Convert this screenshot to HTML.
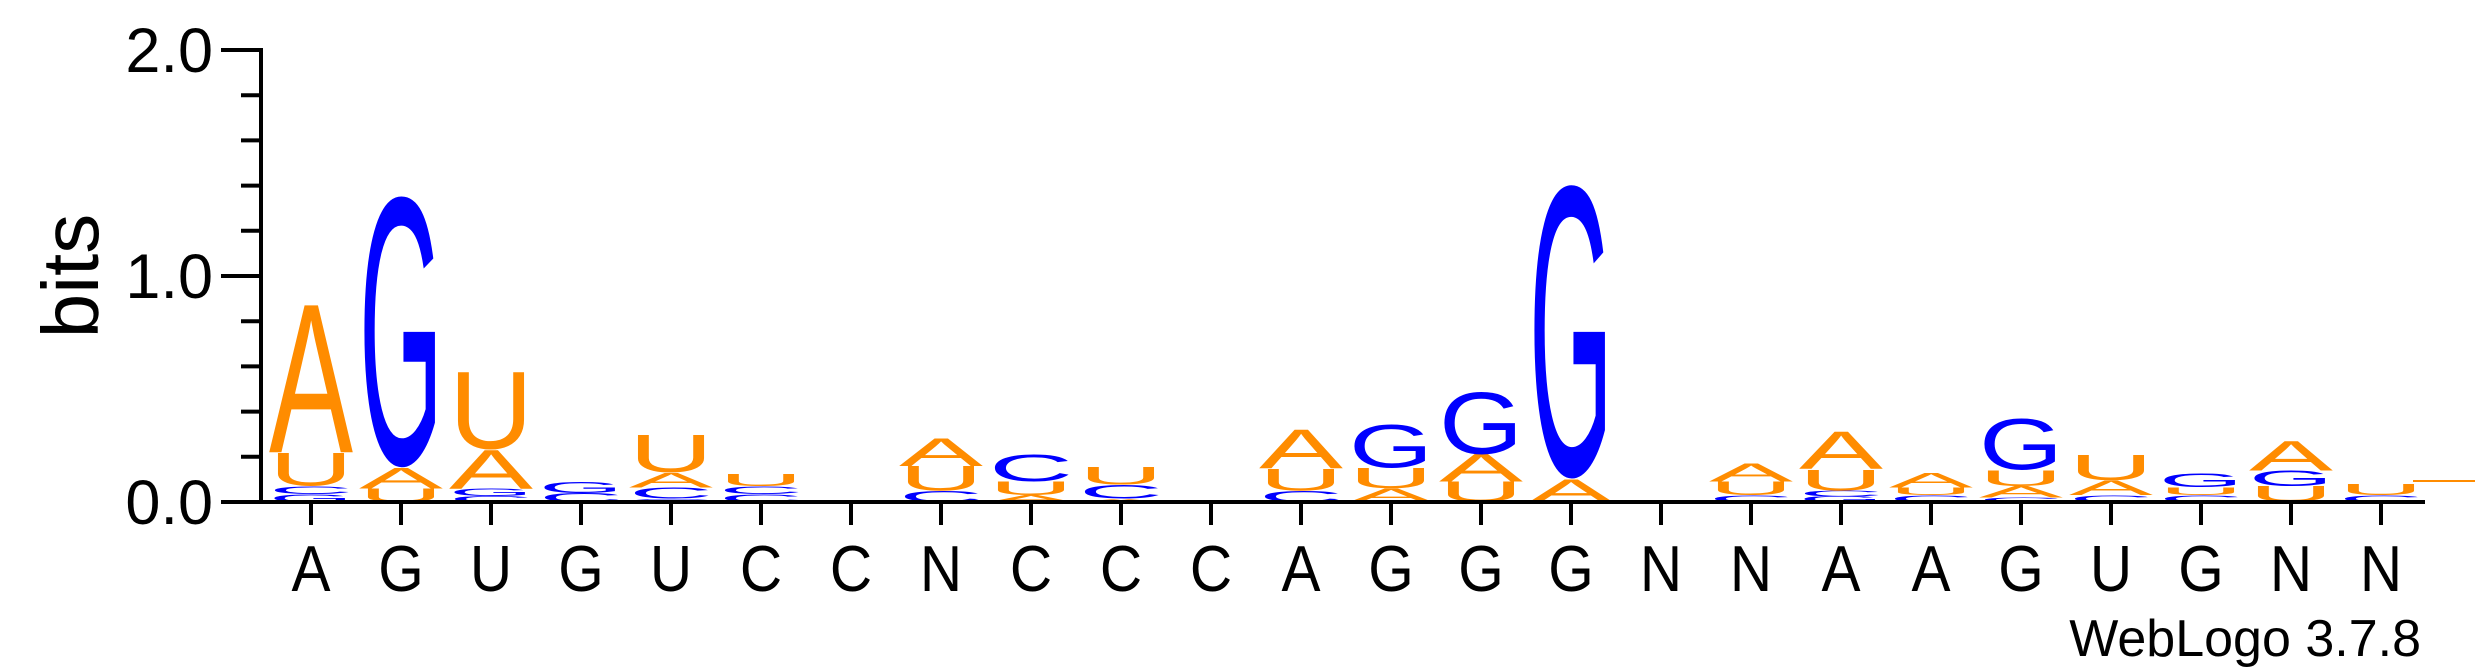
<!DOCTYPE html>
<html><head><meta charset="utf-8"><style>
html,body{margin:0;padding:0;background:#fff;}
svg{display:block;font-family:"Liberation Sans",Arial,sans-serif;}
</style></head><body>
<svg id="logo" width="2475" height="667" viewBox="0 0 2475 667" xmlns="http://www.w3.org/2000/svg">
  <g id="marks"></g>
  <g id="axes"></g>
  <text x="0" y="0" font-size="80" text-anchor="middle" transform="translate(98,276) rotate(-90)">bits</text>
  <text x="2421" y="656" font-size="52" text-anchor="end">WebLogo 3.7.8</text>
  <rect x="2413" y="480" width="62" height="2" fill="#FF8C00"/>
</svg>
<script>
// data
const positions = ["A","G","U","G","U","C","C","N","C","C","C","A","G","G","G","N","N","A","A","G","U","G","N","N"];
// each column: letters bottom→top with heights in bits
const stackLetters = [
  ["G","C","U","A"],["U","A","G"],["C","G","A","U"],["C","G"],["C","C","A","U"],["C","C","U"],[],["C","U","A"],
  ["A","U","C"],["A","C","U"],[],["C","U","A"],["A","U","G"],["U","A","G"],["A","G"],[],
  ["C","U","A"],["G","C","U","A"],["C","U","A"],["C","A","U","G"],["C","A","U"],["C","U","G"],["U","G","A"],["C","U"]
];
const stackBits = [
  [0.035,0.035,0.15,0.65],[0.06,0.09,1.21],[0.025,0.035,0.17,0.35],[0.04,0.05],[0.015,0.05,0.065,0.17],[0.035,0.035,0.055],[],[0.05,0.11,0.12],
  [0.03,0.06,0.12],[0.015,0.06,0.08],[],[0.05,0.1,0.17],[0.06,0.09,0.195],[0.09,0.12,0.28],[0.1,1.31],[],
  [0.03,0.06,0.08],[0.025,0.025,0.095,0.165],[0.03,0.035,0.065],[0.02,0.05,0.07,0.23],[0.03,0.065,0.115],[0.03,0.035,0.06],[0.07,0.07,0.13],[0.03,0.05]
];
const yTicks = [0,0.2,0.4,0.6,0.8,1.0,1.2,1.4,1.6,1.8,2.0];
const yLabels = {"0":"0.0","1":"1.0","2":"2.0"};

const NS="http://www.w3.org/2000/svg";
const y0=502, pxPerBit=226, x0=311, colStep=90, letterW=84;
const yScale = b => y0 - b*pxPerBit;
const xScale = i => x0 + i*colStep;
const colors = {A:"#FF8C00",U:"#FF8C00",G:"#0000FF",C:"#0000FF"};
const marks=document.getElementById("marks"), axes=document.getElementById("axes");

stackLetters.forEach((letters,i)=>{
  let cum=0;
  letters.forEach((L,j)=>{
    const b=stackBits[i][j];
    const bottom=yScale(cum), top=yScale(cum+b), h=bottom-top;
    cum+=b;
    const t=document.createElementNS(NS,"text");
    
    
    t.textContent=L;
    t.setAttribute("x","0");t.setAttribute("y","0");
    t.setAttribute("font-size","100");
    t.setAttribute("textLength","66");
    t.setAttribute("lengthAdjust","spacingAndGlyphs");
    t.setAttribute("fill",colors[L]);
    const round=(L==="G"||L==="C"||L==="U");
    const capH= round?71.5:68.8, base= round?1.2:0;
    const sy=h/capH, sx=letterW/66;
    t.setAttribute("transform",`translate(${xScale(i)-letterW/2},${bottom-base*sy}) scale(${sx},${sy})`);
    marks.appendChild(t);
  });
});

function line(x1,y1,x2,y2,name){
  const l=document.createElementNS(NS,"line");
  
  
  l.setAttribute("x1",x1);l.setAttribute("y1",y1);l.setAttribute("x2",x2);l.setAttribute("y2",y2);
  l.setAttribute("stroke","#000");l.setAttribute("stroke-width","4");
  axes.appendChild(l);
}
line(261,48,261,504,"y-axis-line");
line(259,502,2425,502,"x-axis-line");
yTicks.forEach(v=>{
  const y=yScale(v);
  const major=Math.abs(v-Math.round(v))<1e-9;
  line(major?221:241,y,261,y,"y-tick");
  if(major){
    const t=document.createElementNS(NS,"text");
    
    
    t.setAttribute("x","213");t.setAttribute("y",y+22);
    t.setAttribute("font-size","63");t.setAttribute("text-anchor","end");
    t.textContent=yLabels[String(Math.round(v))];
    axes.appendChild(t);
  }
});
positions.forEach((p,i)=>{
  const x=xScale(i);
  line(x,502,x,525,"x-tick");
  const t=document.createElementNS(NS,"text");
  
  
  t.setAttribute("x","0");t.setAttribute("y","0");
  t.setAttribute("font-size","65");t.setAttribute("text-anchor","middle");
  t.setAttribute("transform",`translate(${x},591) scale(0.9,1)`);
  t.textContent=p;
  axes.appendChild(t);
});
</script>
</body></html>
